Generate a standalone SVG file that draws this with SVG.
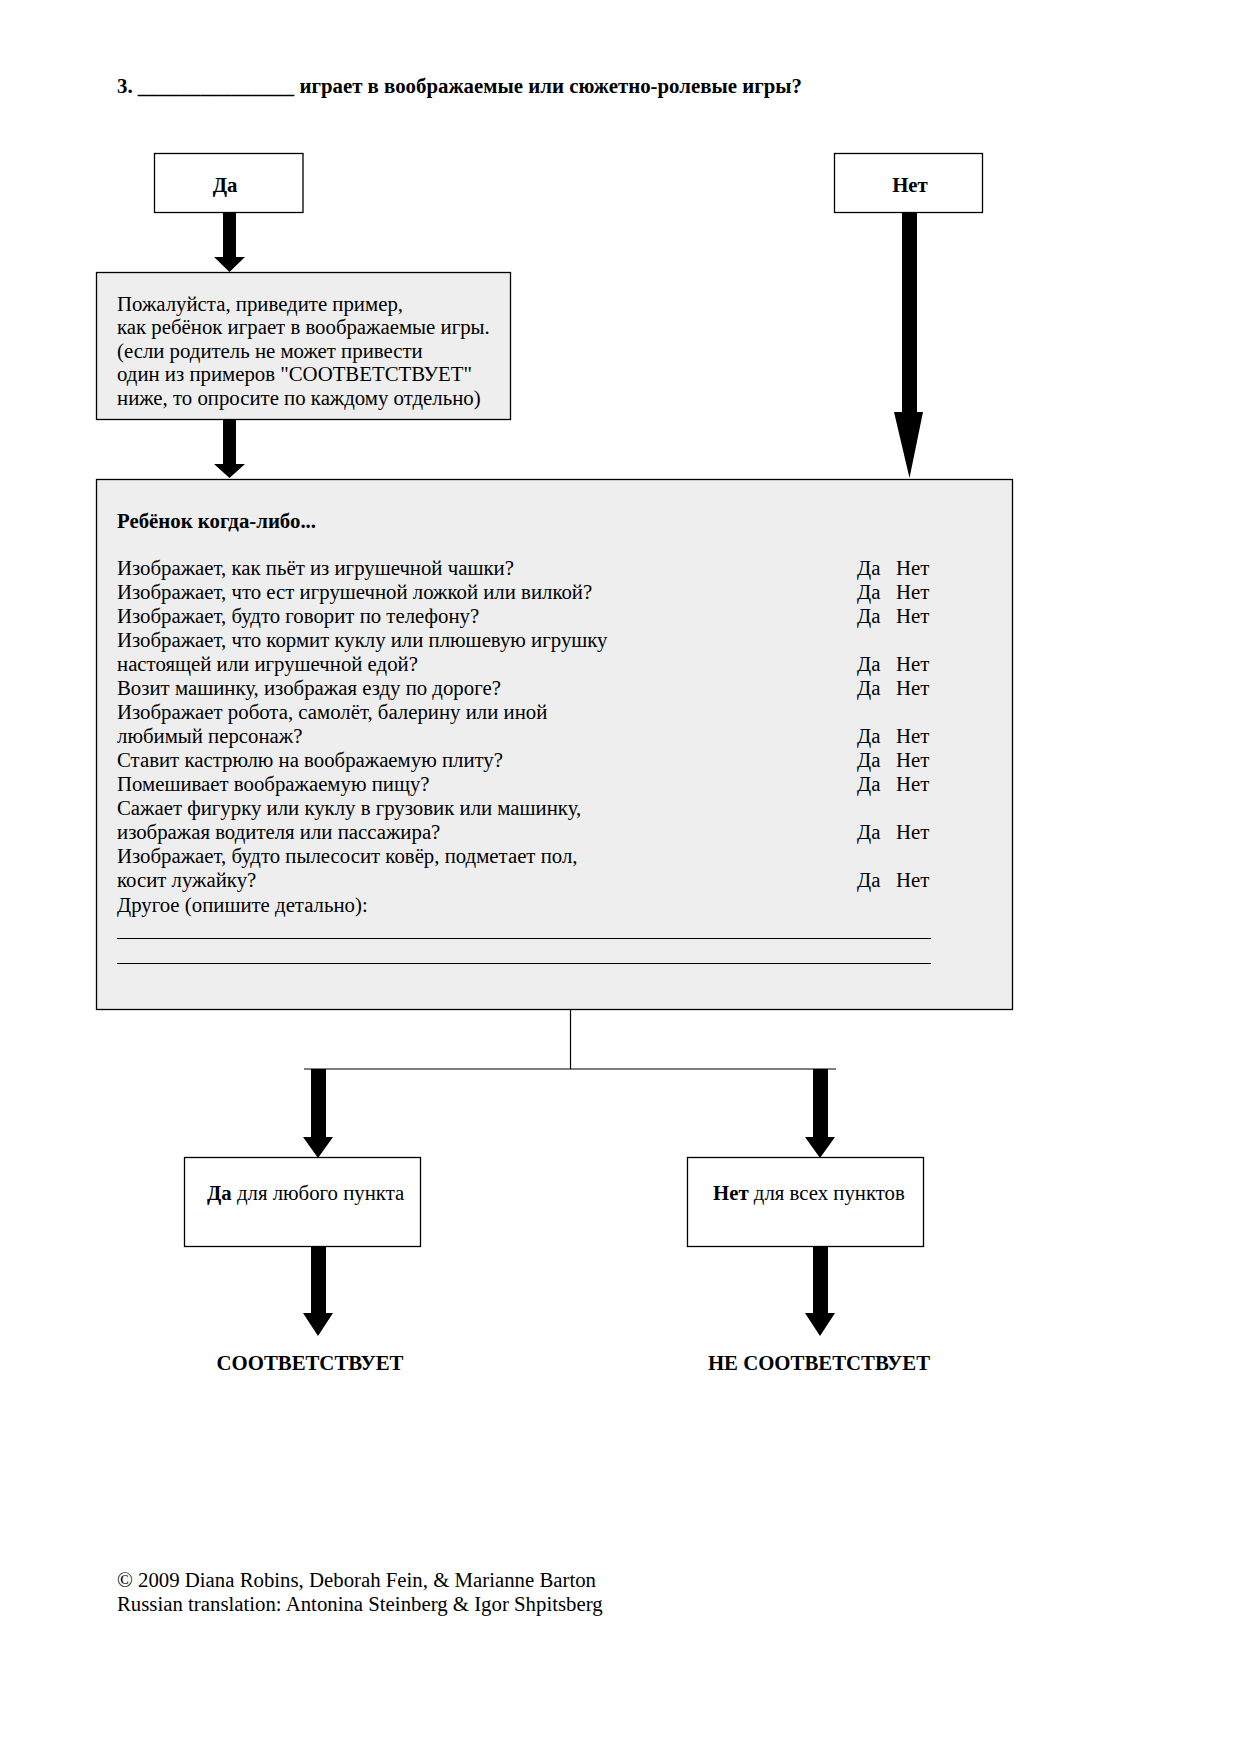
<svg xmlns="http://www.w3.org/2000/svg" width="1240" height="1754" viewBox="0 0 1240 1754">
<style>
text{font-family:"Liberation Serif","Times New Roman",serif;fill:#000}
.t{font-size:20.8px}
.b{font-weight:bold}
.box{fill:#fff;stroke:#000;stroke-width:1.3}
.gbox{fill:#eeeeee;stroke:#000;stroke-width:1.3}
.arr{fill:#000}
.ln{stroke:#000;stroke-width:1.2;fill:none}
</style>
<rect width="1240" height="1754" fill="#fff"/>
<text x="117" y="93" class="b" font-size="20" textLength="685" lengthAdjust="spacingAndGlyphs">3. _______________ играет в воображаемые или сюжетно-ролевые игры?</text>

<g id="node-da">
<rect class="box" x="154.5" y="153.5" width="148.5" height="59"/>
<text x="225" y="192" class="t b" text-anchor="middle">Да</text>
</g>
<g id="node-net">
<rect class="box" x="834.5" y="153.5" width="148" height="59"/>
<text x="910" y="192" class="t b" text-anchor="middle">Нет</text>
</g>
<g id="node-example">
<rect class="gbox" x="96.5" y="272.5" width="414" height="147"/>
<text class="t" x="117" y="311">Пожалуйста, приведите пример,</text>
<text class="t" x="117" y="334">как ребёнок играет в воображаемые игры.</text>
<text class="t" x="117" y="358">(если родитель не может привести</text>
<text class="t" x="117" y="381">один из примеров "СООТВЕТСТВУЕТ"</text>
<text class="t" x="117" y="405">ниже, то опросите по каждому отдельно)</text>
</g>
<g id="node-questions">
<rect class="gbox" x="96.5" y="479.5" width="916" height="530"/>
<text class="t b" x="117" y="528">Ребёнок когда-либо...</text>
<text class="t" x="117" y="575">Изображает, как пьёт из игрушечной чашки?</text>
<text class="t" x="117" y="599">Изображает, что ест игрушечной ложкой или вилкой?</text>
<text class="t" x="117" y="623">Изображает, будто говорит по телефону?</text>
<text class="t" x="117" y="647">Изображает, что кормит куклу или плюшевую игрушку</text>
<text class="t" x="117" y="671">настоящей или игрушечной едой?</text>
<text class="t" x="117" y="695">Возит машинку, изображая езду по дороге?</text>
<text class="t" x="117" y="719">Изображает робота, самолёт, балерину или иной</text>
<text class="t" x="117" y="743">любимый персонаж?</text>
<text class="t" x="117" y="767">Ставит кастрюлю на воображаемую плиту?</text>
<text class="t" x="117" y="791">Помешивает воображаемую пищу?</text>
<text class="t" x="117" y="815">Сажает фигурку или куклу в грузовик или машинку,</text>
<text class="t" x="117" y="839">изображая водителя или пассажира?</text>
<text class="t" x="117" y="863">Изображает, будто пылесосит ковёр, подметает пол,</text>
<text class="t" x="117" y="887">косит лужайку?</text>
<text class="t" x="117" y="912">Другое (опишите детально):</text>
<text class="t"><tspan x="857" y="575">Да</tspan><tspan x="896" y="575">Нет</tspan></text>
<text class="t"><tspan x="857" y="599">Да</tspan><tspan x="896" y="599">Нет</tspan></text>
<text class="t"><tspan x="857" y="623">Да</tspan><tspan x="896" y="623">Нет</tspan></text>
<text class="t"><tspan x="857" y="671">Да</tspan><tspan x="896" y="671">Нет</tspan></text>
<text class="t"><tspan x="857" y="695">Да</tspan><tspan x="896" y="695">Нет</tspan></text>
<text class="t"><tspan x="857" y="743">Да</tspan><tspan x="896" y="743">Нет</tspan></text>
<text class="t"><tspan x="857" y="767">Да</tspan><tspan x="896" y="767">Нет</tspan></text>
<text class="t"><tspan x="857" y="791">Да</tspan><tspan x="896" y="791">Нет</tspan></text>
<text class="t"><tspan x="857" y="839">Да</tspan><tspan x="896" y="839">Нет</tspan></text>
<text class="t"><tspan x="857" y="887">Да</tspan><tspan x="896" y="887">Нет</tspan></text>
<line class="ln" x1="117" y1="938.5" x2="931" y2="938.5"/>
<line class="ln" x1="117" y1="963.5" x2="931" y2="963.5"/>
</g>
<g id="node-yes-any">
<rect class="box" x="184.5" y="1157.5" width="236" height="89"/>
<text class="t" x="207" y="1200"><tspan class="b">Да</tspan> для любого пункта</text>
</g>
<g id="node-no-all">
<rect class="box" x="687.5" y="1157.5" width="236" height="89"/>
<text class="t" x="713" y="1200"><tspan class="b">Нет</tspan> для всех пунктов</text>
</g>
<g id="node-fits">
<text class="t b" x="310" y="1370" text-anchor="middle">СООТВЕТСТВУЕТ</text>
</g>
<g id="node-notfits">
<text class="t b" x="819" y="1370" text-anchor="middle">НЕ СООТВЕТСТВУЕТ</text>
</g>

<g id="connectors">
<polygon class="arr" points="223,213 236,213 236,257 245,257 229.5,272 214,257 223,257"/>
<polygon class="arr" points="223,420 236,420 236,464 245,464 229.5,478 214,464 223,464"/>
<polygon class="arr" points="902,213 917,213 917,412 923,412 909.5,478 894,412 902,412"/>
<line class="ln" x1="570.5" y1="1010" x2="570.5" y2="1069"/>
<line class="ln" x1="304" y1="1069" x2="836" y2="1069"/>
<polygon class="arr" points="311,1069 326,1069 326,1137 333,1137 318,1158 303,1137 311,1137"/>
<polygon class="arr" points="813,1069 828,1069 828,1137 835,1137 820,1158 805,1137 813,1137"/>
<polygon class="arr" points="311,1247 326,1247 326,1313 333,1313 318,1336 303,1313 311,1313"/>
<polygon class="arr" points="813,1247 828,1247 828,1313 835,1313 820,1336 805,1313 813,1313"/>
</g>

<text class="t" x="117" y="1587">© 2009 Diana Robins, Deborah Fein, &amp; Marianne Barton</text>
<text class="t" x="117" y="1611">Russian translation: Antonina Steinberg &amp; Igor Shpitsberg</text>
</svg>
